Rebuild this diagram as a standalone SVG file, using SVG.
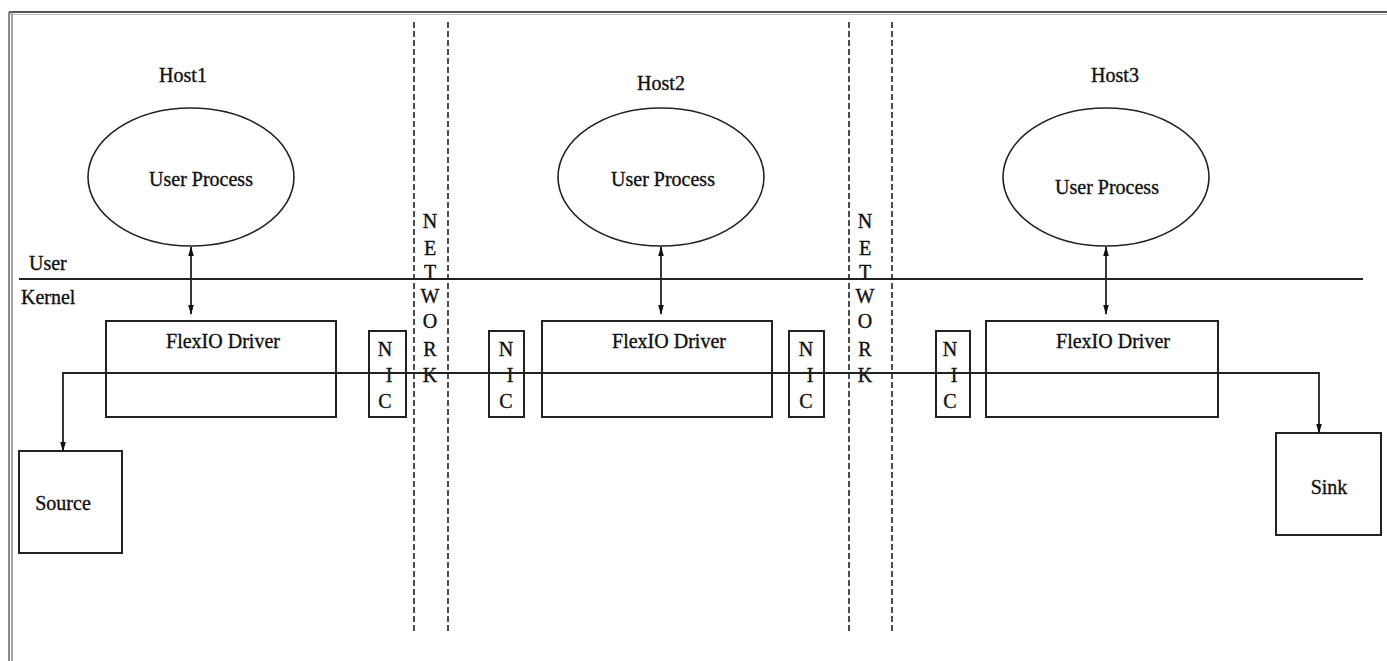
<svg xmlns="http://www.w3.org/2000/svg" width="1387" height="661" viewBox="0 0 1387 661">
<style>
text{font-family:"Liberation Serif","Times New Roman",serif;font-size:20px;fill:#111;stroke:#111;stroke-width:0.35}
.c{text-anchor:middle}
.box{fill:none;stroke:#222;stroke-width:2}
.ell{fill:none;stroke:#222;stroke-width:1.6}
.line{fill:none;stroke:#222;stroke-width:1.8}
.dash{fill:none;stroke:#222;stroke-width:1.6;stroke-dasharray:6 3}
</style>
<defs>
<marker id="ah" viewBox="0 0 10 10" refX="9" refY="5" markerWidth="10" markerHeight="7" markerUnits="userSpaceOnUse" orient="auto-start-reverse" preserveAspectRatio="none">
<path d="M0,1 L10,5 L0,9 Z" fill="#111"/>
</marker>
</defs>
<rect width="1387" height="661" fill="#fff"/>
<g id="frame">
<line x1="9" y1="12" x2="1387" y2="12" stroke="#555" stroke-width="2"/>
<line x1="9" y1="14.5" x2="1387" y2="14.5" stroke="#bbb" stroke-width="1"/>
<line x1="9" y1="12" x2="9" y2="661" stroke="#666" stroke-width="1.5"/>
<line x1="12" y1="12" x2="12" y2="661" stroke="#888" stroke-width="1.5"/>
</g>
<g id="layers">
<line class="line" x1="19" y1="279" x2="1363" y2="279"/>
<text x="29" y="270">User</text>
<text x="21" y="304">Kernel</text>
</g>
<g id="network1">
<line class="dash" x1="414" y1="22" x2="414" y2="634"/>
<line class="dash" x1="448" y1="22" x2="448" y2="634"/>
<text class="c" x="430" y="228">N</text>
<text class="c" x="430" y="255">E</text>
<text class="c" x="430" y="279">T</text>
<text class="c" x="430" y="303">W</text>
<text class="c" x="430" y="328">O</text>
<text class="c" x="430" y="356">R</text>
<text class="c" x="430" y="382">K</text>
</g>
<g id="network2">
<line class="dash" x1="849" y1="22" x2="849" y2="634"/>
<line class="dash" x1="892" y1="22" x2="892" y2="634"/>
<text class="c" x="865" y="228">N</text>
<text class="c" x="865" y="255">E</text>
<text class="c" x="865" y="279">T</text>
<text class="c" x="865" y="303">W</text>
<text class="c" x="865" y="328">O</text>
<text class="c" x="865" y="356">R</text>
<text class="c" x="865" y="382">K</text>
</g>
<g id="host1">
<text class="c" x="183" y="82">Host1</text>
<ellipse class="ell" cx="191" cy="177" rx="103" ry="69"/>
<text class="c" x="201" y="186">User Process</text>
</g>
<g id="driver1">
<rect class="box" x="106" y="321" width="230" height="96"/>
<text class="c" x="223" y="348">FlexIO Driver</text>
</g>
<g id="nic1">
<rect class="box" x="369" y="331" width="37" height="86"/>
<text class="c" x="385" y="356">N</text>
<text class="c" x="389" y="382">I</text>
<text class="c" x="385" y="408">C</text>
</g>
<g id="source">
<rect class="box" x="19" y="451" width="103" height="102"/>
<text class="c" x="63" y="510">Source</text>
</g>
<g id="host2">
<text class="c" x="661" y="90">Host2</text>
<ellipse class="ell" cx="661" cy="177" rx="103" ry="69"/>
<text class="c" x="663" y="186">User Process</text>
</g>
<g id="nic2a">
<rect class="box" x="489" y="331" width="35" height="86"/>
<text class="c" x="506" y="356">N</text>
<text class="c" x="510" y="382">I</text>
<text class="c" x="506" y="408">C</text>
</g>
<g id="driver2">
<rect class="box" x="542" y="321" width="230" height="96"/>
<text class="c" x="669" y="348">FlexIO Driver</text>
</g>
<g id="nic2b">
<rect class="box" x="789" y="331" width="35" height="86"/>
<text class="c" x="806" y="356">N</text>
<text class="c" x="810" y="382">I</text>
<text class="c" x="806" y="408">C</text>
</g>
<g id="host3">
<text class="c" x="1115" y="82">Host3</text>
<ellipse class="ell" cx="1106" cy="177" rx="103" ry="69"/>
<text class="c" x="1107" y="194">User Process</text>
</g>
<g id="nic3">
<rect class="box" x="936" y="331" width="34" height="86"/>
<text class="c" x="950" y="356">N</text>
<text class="c" x="954" y="382">I</text>
<text class="c" x="950" y="408">C</text>
</g>
<g id="driver3">
<rect class="box" x="986" y="321" width="232" height="96"/>
<text class="c" x="1113" y="348">FlexIO Driver</text>
</g>
<g id="sink">
<rect class="box" x="1276" y="433" width="105" height="102"/>
<text class="c" x="1329" y="494">Sink</text>
</g>
<g id="connectors">
<line class="line" x1="191" y1="247" x2="191" y2="314" marker-start="url(#ah)" marker-end="url(#ah)"/>
<line class="line" x1="661" y1="247" x2="661" y2="314" marker-start="url(#ah)" marker-end="url(#ah)"/>
<line class="line" x1="1106" y1="247" x2="1106" y2="314" marker-start="url(#ah)" marker-end="url(#ah)"/>
<polyline class="line" points="63,451 63,373 1319,373 1319,433" marker-start="url(#ah)" marker-end="url(#ah)"/>
</g>
</svg>
